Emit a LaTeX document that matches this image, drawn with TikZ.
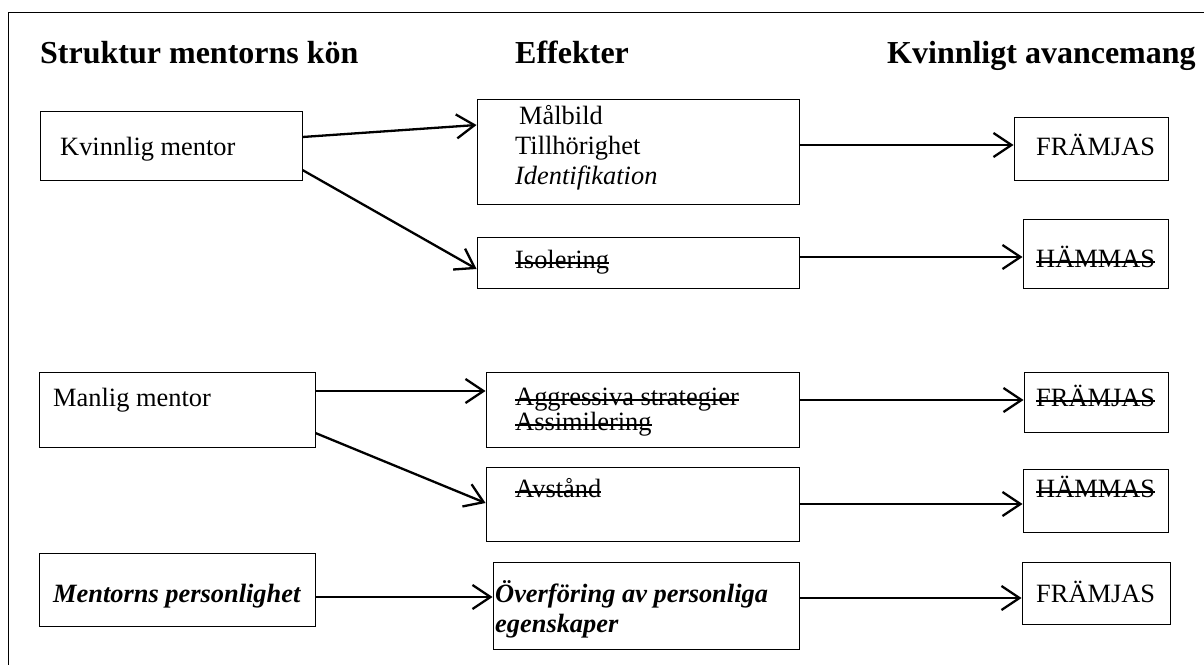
\documentclass[tikz,border=0pt]{standalone}
\usepackage{fontspec}
\setmainfont{Liberation Serif}
\usetikzlibrary{fit,arrows.meta}

% genomstruken text (struck-through text)
\newcommand{\strikenode}[1]{%
  \draw[line width=2pt] ([yshift=5.5pt]#1.base west) -- ([yshift=5.5pt]#1.base east);}

\begin{document}
\begin{tikzpicture}[
    x=1pt, y=-1pt,
    box/.style = {draw, line width=0.9pt, inner sep=0pt},
    txt/.style = {anchor=base west, inner sep=0pt, font=\fontsize{26.4}{30}\selectfont},
    head/.style = {anchor=base west, inner sep=0pt, font=\fontsize{32}{38}\selectfont\bfseries},
    conn/.style = {line width=2.3pt, -{Straight Barb[length=18pt,width=24pt]}}
]
    \useasboundingbox (0,0) rectangle (1204,664);
    \draw[line width=0.9pt] (8,670) -- (8,12) -- (1210,12);

    % Rubriker (Headings)
    \node[head] (h1) at (40,63) {Struktur mentorns kön};
    \node[head] (h2) at (515,63) {Effekter};
    \node[head] (h3) at (887,63) {Kvinnligt avancemang};

    % Rutor (Boxes)
    \node[box, fit={(40,111) (302,180)}] (kv) {};
    \node[box, fit={(477,99) (799,204)}] (eff1) {};
    \node[box, fit={(477,237) (799,288)}] (iso) {};
    \node[box, fit={(1014,117) (1168,180)}] (fr1) {};
    \node[box, fit={(1023,219) (1168,288)}] (ha1) {};
    \node[box, fit={(39,372) (315,447)}] (ma) {};
    \node[box, fit={(39,553) (315,626)}] (pers) {};
    \node[box, fit={(486,372) (799,447)}] (agg) {};
    \node[box, fit={(486,467) (799,541)}] (avs) {};
    \node[box, fit={(493,562) (799,649)}] (over) {};
    \node[box, fit={(1024,372) (1168,432)}] (fr2) {};
    \node[box, fit={(1023,469) (1168,532)}] (ha2) {};
    \node[box, fit={(1022,562) (1170,624)}] (fr3) {};

    % Texter (Texts)
    \node[txt] (kvT) at (60,155) {Kvinnlig mentor};
    \node[txt] (eff1a) at (519,124) {Målbild};
    \node[txt] (eff1b) at (515,154) {Tillhörighet};
    \node[txt] (eff1c) at (515,184) {\itshape Identifikation};
    \node[txt] (isoT) at (515,268) {Isolering};
    \node[txt] (fr1T) at (1036,155) {FRÄMJAS};
    \node[txt] (ha1T) at (1036,267) {HÄMMAS};
    \node[txt] (maT) at (53,406) {Manlig mentor};
    \node[txt] (persT) at (53,602) {\bfseries\itshape Mentorns personlighet};
    \node[txt] (agga) at (515,405) {Aggressiva strategier};
    \node[txt] (aggb) at (515,430) {Assimilering};
    \node[txt] (avsT) at (515,497) {Avstånd};
    \node[txt] (overa) at (495,602) {\bfseries\itshape Överföring av personliga};
    \node[txt] (overb) at (495,632) {\bfseries\itshape egenskaper};
    \node[txt] (fr2T) at (1036,406) {FRÄMJAS};
    \node[txt] (ha2T) at (1036,497) {HÄMMAS};
    \node[txt] (fr3T) at (1036,602) {FRÄMJAS};

    % Överstrykningar (Strike-throughs)
    \foreach \n in {isoT, ha1T, agga, aggb, avsT, fr2T, ha2T}
        {\strikenode{\n}}

    % Pilar (Arrows)
    \draw[conn] ([yshift=8.5pt]kv.east) -- ([yshift=26.5pt]eff1.west);
    \draw[conn] ([yshift=-24.5pt]kv.east) -- ([yshift=-6.5pt]iso.west);
    \draw[conn] ([yshift=6.5pt]eff1.east) -- ([yshift=3.5pt]fr1.west);
    \draw[conn] ([yshift=5.5pt]iso.east) -- ([yshift=-3.5pt]ha1.west);
    \draw[conn] ([yshift=18.5pt]ma.east) -- ([yshift=18.5pt]agg.west);
    \draw[conn] ([yshift=-23.5pt]ma.east) -- ([yshift=1pt]avs.west);
    \draw[conn] ([yshift=9.5pt]agg.east) -- ([yshift=2pt]fr2.west);
    \draw[conn] (avs.east) -- ([yshift=-3.5pt]ha2.west);
    \draw[conn] ([yshift=-7.5pt]pers.east) -- ([yshift=8.5pt]over.west);
    \draw[conn] ([yshift=7.5pt]over.east) -- ([yshift=-5pt]fr3.west);

\end{tikzpicture}
\end{document}
